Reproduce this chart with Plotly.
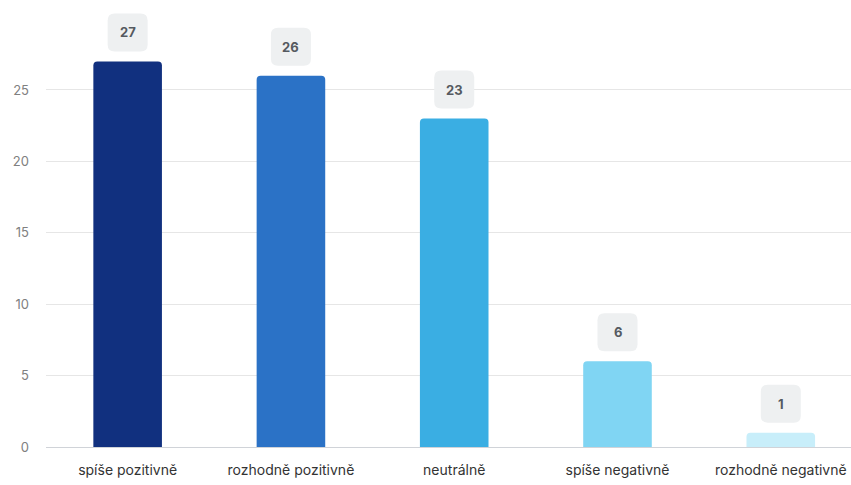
import plotly.graph_objects as go

categories = ["spíše pozitivně", "rozhodně pozitivně", "neutrálně", "spíše negativně", "rozhodně negativně"]
counts = [27, 26, 23, 6, 1]
bar_colors = ["#11307f", "#2b72c6", "#3aaee3", "#80d5f3", "#c8eefa"]
y_ticks = [0, 5, 10, 15, 20, 25]

FONT = "Inter, Roboto, sans-serif"

fig = go.Figure()
fig.add_trace(go.Bar(
    x=list(range(len(categories))),
    y=counts,
    marker=dict(color=bar_colors, line=dict(width=0)),
    width=0.42,
    hoverinfo="skip",
))


def rounded_box(w, h, r, dy):
    # rounded rectangle in pixels, centred horizontally, bottom edge dy px above anchor
    x0, x1 = -w / 2, w / 2
    y0, y1 = dy, dy + h
    return (
        f"M {x0 + r},{y0} L {x1 - r},{y0} Q {x1},{y0} {x1},{y0 + r} "
        f"L {x1},{y1 - r} Q {x1},{y1} {x1 - r},{y1} L {x0 + r},{y1} "
        f"Q {x0},{y1} {x0},{y1 - r} L {x0},{y0 + r} Q {x0},{y0} {x0 + r},{y0} Z"
    )


for i, v in enumerate(counts):
    fig.add_shape(
        type="path", xref="x", yref="y",
        xsizemode="pixel", ysizemode="pixel",
        xanchor=i, yanchor=v,
        path=rounded_box(40, 38, 7, 10),
        fillcolor="#eef0f1", line=dict(width=0), layer="above",
    )
    fig.add_annotation(
        x=i, y=v, text=f"<b>{v}</b>", showarrow=False,
        yshift=29, font=dict(family=FONT, size=13, color="#555a60"),
    )

fig.update_layout(
    width=851, height=485,
    margin=dict(l=46, r=0, t=5, b=38),
    paper_bgcolor="white", plot_bgcolor="white",
    showlegend=False,
    barcornerradius=4,
    font=dict(family=FONT),
)
fig.update_xaxes(
    range=[-0.5, 4.43],
    tickmode="array", tickvals=list(range(len(categories))), ticktext=categories,
    tickfont=dict(family=FONT, size=14, color="#333"),
    showgrid=False, zeroline=False, showline=False,
    ticks="", ticklabelstandoff=13,
)
fig.update_yaxes(
    range=[0, 30.95],
    tickmode="array", tickvals=y_ticks,
    tickfont=dict(family=FONT, size=13, color="#808080"),
    showgrid=True, gridcolor="#e6e6e6", gridwidth=1,
    zeroline=True, zerolinecolor="#d0d3d8", zerolinewidth=1,
    showline=False, ticks="", ticklabelstandoff=16,
)

fig.write_html("out.html")
